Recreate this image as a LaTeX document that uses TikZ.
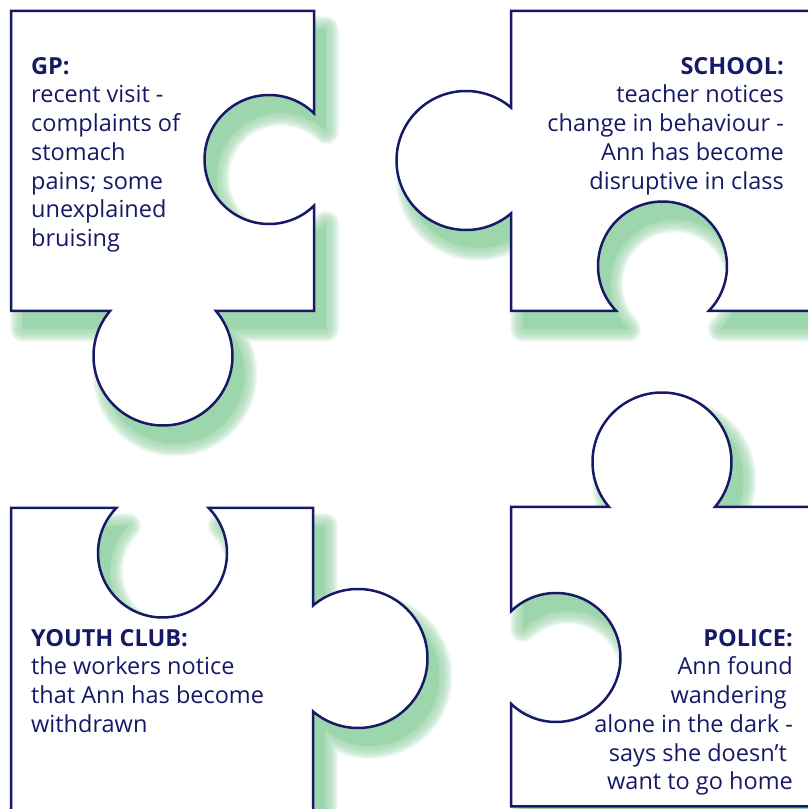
\documentclass[tikz,border=0pt]{standalone}
\usepackage{fontspec}
\setmainfont{Open Sans}
\definecolor{piecenavy}{RGB}{22,26,102}
\definecolor{shadowgreen}{RGB}{157,213,172}

\begin{document}
\begin{tikzpicture}[
  x=1pt,
  y=1pt,
  glow/.style={
    preaction={draw=shadowgreen,line width=#1pt,opacity=.13,line join=round,
      transform canvas={shift={(12pt,-18pt)}}}
  },
  piece/.style={
    preaction={fill=shadowgreen,transform canvas={shift={(12pt,-18pt)}}},
    glow/.list={2,4,...,26},
    fill=white,
    draw=piecenavy,
    line width=2.5pt
  },
  note/.style={
    inner sep=0pt,
    text=piecenavy,
    font=\fontsize{23.5}{28.7}\selectfont
  }
]
  \useasboundingbox (0,0) rectangle (808,809);
  \clip (0,0) rectangle (808,809);

  % GP piece
  \draw[piece] (11,798) -- (314,798) -- (314,695.71)
    arc[start angle=45.77,end angle=314.23,radius=64.5]
    -- (314,498) -- (215.96,498)
    arc[start angle=40.36,end angle=-220.36,radius=69.5]
    -- (11,498) -- cycle;

  % school piece
  \draw[piece] (511,798) -- (830,798) -- (830,498) -- (708.71,498)
    arc[start angle=-44.23,end angle=224.23,radius=64.5]
    -- (511,498) -- (511,595.54)
    arc[start angle=-49.64,end angle=-310.36,radius=69.5]
    -- cycle;

  % youth club piece
  \draw[piece] (11,301) -- (116.29,301)
    arc[start angle=135.77,end angle=404.23,radius=64.5]
    -- (313,301) -- (313,203.46)
    arc[start angle=130.36,end angle=-130.36,radius=69.5]
    -- (313,-20) -- (11,-20) -- cycle;

  % police piece
  \draw[piece] (511,302) -- (609.04,302)
    arc[start angle=220.36,end angle=-40.36,radius=69.5]
    -- (830,302) -- (830,2.5) -- (511,2.5) -- (511,105.29)
    arc[start angle=225.77,end angle=494.23,radius=64.5]
    -- cycle;

  \node[note,anchor=north west,align=left] (gp) at (31,752)
    {\textbf{GP:}\\recent visit -\\complaints of\\stomach\\pains; some\\unexplained\\bruising};
  \node[note,anchor=north east,align=right] (school) at (784,752)
    {\textbf{SCHOOL:}\\teacher notices\\change in behaviour -\\Ann has become\\disruptive in class};
  \node[note,anchor=north west,align=left] (youth) at (31,180)
    {\textbf{YOUTH CLUB:}\\the workers notice\\that Ann has become\\withdrawn};
  \node[note,anchor=north east,align=right] (police) at (793,180)
    {\textbf{POLICE:}\\Ann found\\wandering\kern6pt\\alone in the dark -\\says she doesn’t\kern6pt\\want to go home};
\end{tikzpicture}
\end{document}
